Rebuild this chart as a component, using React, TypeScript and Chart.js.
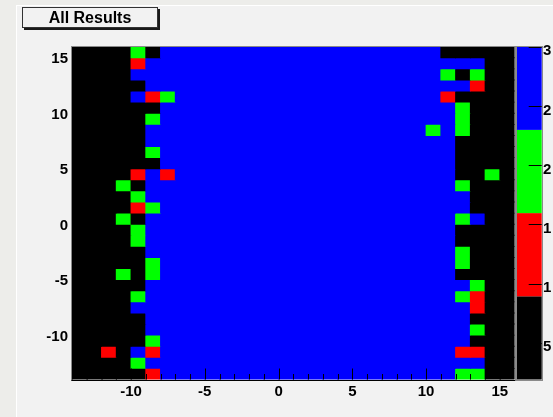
import React, { useEffect, useRef } from 'react';
import { Chart, registerables } from 'chart.js';

Chart.register(...registerables);

// Bin lower edges (x: left to right, y: top row first)
const xBinLow = [-14, -13, -12, -11, -10, -9, -8, -7, -6, -5, -4, -3, -2, -1, 0, 1, 2, 3, 4, 5, 6, 7, 8, 9, 10, 11, 12, 13, 14, 15];
const yBinLow = [15, 14, 13, 12, 11, 10, 9, 8, 7, 6, 5, 4, 3, 2, 1, 0, -1, -2, -3, -4, -5, -6, -7, -8, -9, -10, -11, -12, -13, -14];

const xTickValues = [-10, -5, 0, 5, 10, 15];
const yTickValues = [-10, -5, 0, 5, 10, 15];
const zTickValues = [500, 1000, 1500, 2000, 2500, 3000];
const zMin = 190;
const zMax = 3000;

// palette colours (low -> high) and a representative z value for each band
const levelColors = ['#000000', '#ff0000', '#00ff00', '#0000ff'];
const levelValues = [540, 1240, 1950, 2650];

// each row: runs of [number of bins, colour band], left to right
const rowRuns: number[][][] = [
  [[4, 0], [1, 2], [1, 0], [19, 3], [5, 0]],
  [[4, 0], [1, 1], [23, 3], [2, 0]],
  [[4, 0], [21, 3], [1, 2], [1, 0], [1, 2], [2, 0]],
  [[5, 0], [22, 3], [1, 1], [2, 0]],
  [[4, 0], [1, 3], [1, 1], [1, 2], [18, 3], [1, 1], [4, 0]],
  [[6, 0], [20, 3], [1, 2], [3, 0]],
  [[5, 0], [1, 2], [20, 3], [1, 2], [3, 0]],
  [[5, 0], [19, 3], [1, 2], [1, 3], [1, 2], [3, 0]],
  [[5, 0], [21, 3], [4, 0]],
  [[5, 0], [1, 2], [20, 3], [4, 0]],
  [[6, 0], [20, 3], [4, 0]],
  [[4, 0], [1, 1], [1, 3], [1, 1], [19, 3], [2, 0], [1, 2], [1, 0]],
  [[3, 0], [1, 2], [1, 0], [21, 3], [1, 2], [3, 0]],
  [[4, 0], [1, 2], [22, 3], [3, 0]],
  [[4, 0], [1, 1], [1, 2], [21, 3], [3, 0]],
  [[3, 0], [1, 2], [1, 0], [21, 3], [1, 2], [1, 3], [2, 0]],
  [[4, 0], [1, 2], [21, 3], [4, 0]],
  [[4, 0], [1, 2], [21, 3], [4, 0]],
  [[5, 0], [21, 3], [1, 2], [3, 0]],
  [[5, 0], [1, 2], [20, 3], [1, 2], [3, 0]],
  [[3, 0], [1, 2], [1, 0], [1, 2], [20, 3], [4, 0]],
  [[5, 0], [22, 3], [1, 2], [2, 0]],
  [[4, 0], [1, 2], [21, 3], [1, 2], [1, 1], [2, 0]],
  [[4, 0], [23, 3], [1, 1], [2, 0]],
  [[5, 0], [22, 3], [3, 0]],
  [[5, 0], [22, 3], [1, 2], [2, 0]],
  [[5, 0], [1, 2], [21, 3], [3, 0]],
  [[2, 0], [1, 1], [1, 0], [1, 3], [1, 1], [20, 3], [2, 1], [2, 0]],
  [[4, 0], [1, 2], [23, 3], [2, 0]],
  [[5, 0], [1, 1], [20, 3], [2, 2], [2, 0]],
];

const FONT_FAMILY = '"Liberation Sans", Arial, Helvetica, sans-serif';
const CANVAS_W = 551;
const CANVAS_H = 417;

function colorForZ(z: number): string {
  const n = levelColors.length;
  let k = Math.floor(((z - zMin) / (zMax - zMin)) * n);
  if (k < 0) k = 0;
  if (k > n - 1) k = n - 1;
  return levelColors[k];
}

const rootPlugin = {
  id: 'rootFrame',
  afterDraw(chart: any) {
    const { ctx, chartArea: a, scales } = chart;
    const xs = scales.x;
    const ys = scales.y;
    const zs = scales.z;
    ctx.save();
    // tick marks inside the frame
    ctx.strokeStyle = '#000';
    ctx.lineWidth = 1;
    ctx.beginPath();
    for (let v = Math.ceil(xs.min); v <= xs.max; v++) {
      const len = v % 5 === 0 ? 11 : 5.5;
      const px = Math.round(xs.getPixelForValue(v)) + 0.5;
      ctx.moveTo(px, a.bottom);
      ctx.lineTo(px, a.bottom - len);
    }
    for (let v = Math.ceil(ys.min); v <= ys.max; v++) {
      const len = v % 5 === 0 ? 11 : 5.5;
      const py = Math.round(ys.getPixelForValue(v)) + 0.5;
      ctx.moveTo(a.left, py);
      ctx.lineTo(a.left + len, py);
    }
    ctx.stroke();
    // frame
    ctx.strokeStyle = '#8a8a8a';
    ctx.strokeRect(Math.round(a.left) - 0.5, Math.round(a.top) - 0.5, Math.round(a.right - a.left) + 1, Math.round(a.bottom - a.top) + 1);
    ctx.strokeStyle = '#000';
    ctx.beginPath();
    ctx.moveTo(a.left - 0.5, Math.round(a.bottom) + 0.5);
    ctx.lineTo(a.right + 0.5, Math.round(a.bottom) + 0.5);
    ctx.stroke();
    // palette
    const px0 = zs.left + 2.1;
    const pw = 25;
    const n = levelColors.length;
    for (let k = 0; k < n; k++) {
      const lo = zMin + ((zMax - zMin) * k) / n;
      const hi = zMin + ((zMax - zMin) * (k + 1)) / n;
      const y0 = zs.getPixelForValue(lo);
      const y1 = zs.getPixelForValue(hi);
      ctx.fillStyle = levelColors[k];
      ctx.fillRect(px0, y1, pw, y0 - y1);
    }
    ctx.strokeStyle = '#8a8a8a';
    ctx.strokeRect(Math.round(px0) - 0.5, Math.round(zs.top) - 0.5, pw + 1, Math.round(zs.bottom - zs.top) + 1);
    ctx.strokeStyle = '#000';
    ctx.beginPath();
    zTickValues.forEach((v) => {
      const py = Math.round(zs.getPixelForValue(v)) + 0.5;
      ctx.moveTo(px0 + pw - 13, py);
      ctx.lineTo(px0 + pw, py);
    });
    ctx.stroke();
    ctx.restore();
  },
};

export default function App() {
  const ref = useRef<HTMLCanvasElement>(null);

  useEffect(() => {
    const canvas = ref.current;
    if (!canvas) return;
    const datasets = rowRuns.map((runs, j) => {
      const levels: number[] = [];
      runs.forEach(([count, lv]) => {
        for (let k = 0; k < count; k++) levels.push(lv);
      });
      const zs = levels.map((lv) => levelValues[lv]);
      return {
        label: 'y=' + yBinLow[j],
        data: zs.map((z, i) => ({ x: xBinLow[i] + 0.5, y: [yBinLow[j], yBinLow[j] + 1], z })),
        backgroundColor: zs.map((z) => colorForZ(z)),
        borderWidth: 0,
        grouped: false,
        barPercentage: 1,
        categoryPercentage: 1,
        inflateAmount: 0.45,
      };
    });

    const tickFont = { family: FONT_FAMILY, size: 15, weight: 'bold' as const };
    const noGrid = { display: false, drawTicks: false, tickLength: 0 };

    const chart = new Chart(canvas, {
      type: 'bar',
      data: { datasets: datasets as any },
      plugins: [rootPlugin],
      options: {
        responsive: false,
        animation: false,
        devicePixelRatio: 1,
        events: [],
        layout: { padding: { left: 0, right: 0, top: 46.7, bottom: 0 } },
        plugins: {
          legend: { display: false },
          tooltip: { enabled: false },
          title: { display: false },
        },
        scales: {
          x: {
            type: 'linear',
            min: -14,
            max: 16,
            offset: false,
            grid: noGrid,
            border: { display: false },
            ticks: { font: tickFont, color: '#000', padding: 3, autoSkip: false, maxRotation: 0 },
            afterBuildTicks: (s: any) => {
              s.ticks = xTickValues.map((v) => ({ value: v }));
            },
            afterFit: (s: any) => {
              s.height = 36.3;
            },
          },
          y: {
            type: 'linear',
            min: -14,
            max: 16,
            grid: noGrid,
            border: { display: false },
            ticks: { font: tickFont, color: '#000', padding: 4, autoSkip: false, labelOffset: 1.5 },
            afterBuildTicks: (s: any) => {
              s.ticks = yTickValues.map((v) => ({ value: v }));
            },
            afterFit: (s: any) => {
              s.width = 72;
            },
          },
          z: {
            type: 'linear',
            position: 'right',
            min: zMin,
            max: zMax,
            grid: noGrid,
            border: { display: false },
            ticks: { font: tickFont, color: '#000', padding: 28.5, autoSkip: false, labelOffset: 4.5 },
            afterBuildTicks: (s: any) => {
              s.ticks = zTickValues.map((v) => ({ value: v }));
            },
            afterFit: (s: any) => {
              s.width = CANVAS_W - 514.6;
            },
          },
        },
      } as any,
    });
    return () => chart.destroy();
  }, []);

  return (
    <div style={{ position: 'absolute', left: 0, top: 0, width: 553, height: 417, background: '#ededea', overflow: 'hidden' }}>
      <div
        style={{
          position: 'absolute',
          left: 16,
          top: 5,
          right: 0,
          bottom: 0,
          background: '#f2f2f2',
          borderLeft: '1px solid #ffffff',
          borderTop: '1px solid #ffffff',
        }}
      />
      <canvas
        ref={ref}
        width={CANVAS_W}
        height={CANVAS_H}
        style={{ position: 'absolute', left: 0, top: 0, width: CANVAS_W, height: CANVAS_H }}
      />
      <div
        style={{
          position: 'absolute',
          left: 22,
          top: 7,
          width: 134,
          height: 19,
          border: '1px solid #333',
          boxShadow: '2px 2px 0 #1a1a1a',
          background: '#f2f2f2',
          font: 'bold 16px "Liberation Sans", Arial, Helvetica, sans-serif',
          color: '#000',
          textAlign: 'center',
          lineHeight: '19px',
          whiteSpace: 'nowrap',
        }}
      >
        All Results
      </div>
    </div>
  );
}
